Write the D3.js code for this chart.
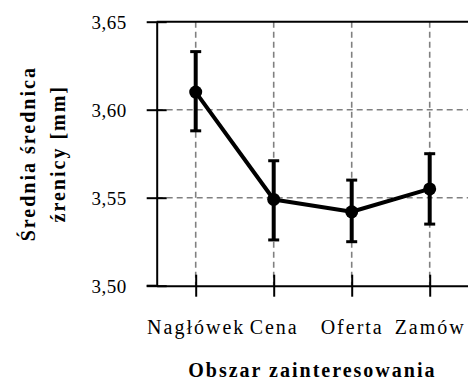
<!DOCTYPE html>
<html>
<head>
<meta charset="utf-8">
<script src="https://cdn.jsdelivr.net/npm/d3@7"></script>
<style>
  html, body { margin: 0; padding: 0; background: #fff; }
  svg { display: block; }
  text { font-family: "Liberation Serif", "Times New Roman", serif; fill: #000; }
</style>
</head>
<body>
<svg id="chart" width="468" height="381"></svg>
<script>
// ---- data ----
const categories = ["Nagłówek", "Cena", "Oferta", "Zamów"];
const means      = [3.610, 3.549, 3.542, 3.555];
const upper      = [3.633, 3.571, 3.560, 3.575];
const lower      = [3.588, 3.526, 3.525, 3.535];
const yTicks     = [3.50, 3.55, 3.60, 3.65];
const yTickLabels = ["3,50", "3,55", "3,60", "3,65"];
const xTitle = "Obszar zainteresowania";
const yTitleLines = ["Średnia średnica", "źrenicy [mm]"];

const rows = categories.map((c, i) => ({ c, m: means[i], hi: upper[i], lo: lower[i] }));

// ---- layout ----
const svg = d3.select("#chart");
const pL = 156.7, pR = 468.7, pT = 21.7, pB = 285.7;

const x = d3.scalePoint().domain(categories).range([pL, pR]).padding(0.5);
const y = d3.scaleLinear().domain([3.50, 3.65]).range([pB, pT]);

// grid
const grid = svg.append("g").attr("stroke", "#808080").attr("stroke-width", 1.6)
  .attr("stroke-dasharray", "6,4");
grid.selectAll("line.v").data(categories).join("line")
  .attr("class", "v")
  .attr("x1", d => x(d)).attr("x2", d => x(d))
  .attr("y1", pT).attr("y2", pB);
grid.selectAll("line.h").data(yTicks.filter(t => t > 3.50 && t < 3.65)).join("line")
  .attr("class", "h")
  .attr("x1", pL).attr("x2", 468)
  .attr("y1", d => y(d)).attr("y2", d => y(d));

// frame: top border
svg.append("line").attr("x1", pL).attr("x2", 468).attr("y1", y(3.65)).attr("y2", y(3.65))
  .attr("stroke", "#000").attr("stroke-width", 2);

// y axis
const yAxis = d3.axisLeft(y).tickValues(yTicks).tickSize(0).tickFormat((d, i) => yTickLabels[i]);
const gy = svg.append("g").attr("transform", `translate(${pL},0)`).call(yAxis);
gy.select(".domain").attr("stroke", "#000").attr("stroke-width", 2);
gy.selectAll(".tick line").remove();
gy.selectAll(".tick").append("line").attr("x1", -10).attr("x2", 10)
  .attr("stroke", "#000").attr("stroke-width", 2);
gy.selectAll(".tick text").attr("x", -30).attr("dy", "0.36em")
  .style("font-size", "19px").style("letter-spacing", "0.5px").style("font-family", "Liberation Serif");

// x axis
const xAxis = d3.axisBottom(x).tickSize(0);
const gx = svg.append("g").attr("transform", `translate(0,${pB})`).call(xAxis);
gx.select(".domain").attr("stroke", "#000").attr("stroke-width", 2);
gx.selectAll(".tick line").remove();
gx.selectAll(".tick").append("line").attr("y1", -11).attr("y2", 11)
  .attr("stroke", "#000").attr("stroke-width", 2);
gx.selectAll(".tick text").attr("y", 48).attr("dy", 0)
  .style("font-size", "20px").style("letter-spacing", "2px").style("font-family", "Liberation Serif");
svg.append("line").attr("x1", pL - 10).attr("x2", pL).attr("y1", pB).attr("y2", pB)
  .attr("stroke", "#000").attr("stroke-width", 2);

// error bars
const eb = svg.append("g").attr("stroke", "#000");
eb.selectAll("line.stem").data(rows).join("line").attr("class", "stem")
  .attr("x1", d => x(d.c)).attr("x2", d => x(d.c))
  .attr("y1", d => y(d.hi)).attr("y2", d => y(d.lo)).attr("stroke-width", 4);
eb.selectAll("line.capHi").data(rows).join("line").attr("class", "capHi")
  .attr("x1", d => x(d.c) - 5.5).attr("x2", d => x(d.c) + 5.5)
  .attr("y1", d => y(d.hi)).attr("y2", d => y(d.hi)).attr("stroke-width", 3);
eb.selectAll("line.capLo").data(rows).join("line").attr("class", "capLo")
  .attr("x1", d => x(d.c) - 5.5).attr("x2", d => x(d.c) + 5.5)
  .attr("y1", d => y(d.lo)).attr("y2", d => y(d.lo)).attr("stroke-width", 3);

// line
const line = d3.line().x(d => x(d.c)).y(d => y(d.m));
svg.append("path").datum(rows).attr("d", line)
  .attr("fill", "none").attr("stroke", "#000").attr("stroke-width", 4)
  .attr("stroke-linejoin", "round");

// markers
svg.selectAll("circle.pt").data(rows).join("circle").attr("class", "pt")
  .attr("cx", d => x(d.c)).attr("cy", d => y(d.m)).attr("r", 6.5).attr("fill", "#000");

// axis titles
svg.append("text").attr("x", (pL + 468) / 2).attr("y", 377)
  .attr("text-anchor", "middle").style("font-size", "20px").style("font-weight", "bold")
  .style("letter-spacing", "2px").text(xTitle);

const yt = svg.append("text").attr("transform", `translate(0,${(pT + pB) / 2}) rotate(-90)`)
  .attr("text-anchor", "middle").style("font-size", "20px").style("font-weight", "bold")
  .style("letter-spacing", "2px");
yt.selectAll("tspan").data(yTitleLines).join("tspan")
  .attr("x", 0).attr("y", (d, i) => 35 + i * 30).text(d => d);
</script>
</body>
</html>
